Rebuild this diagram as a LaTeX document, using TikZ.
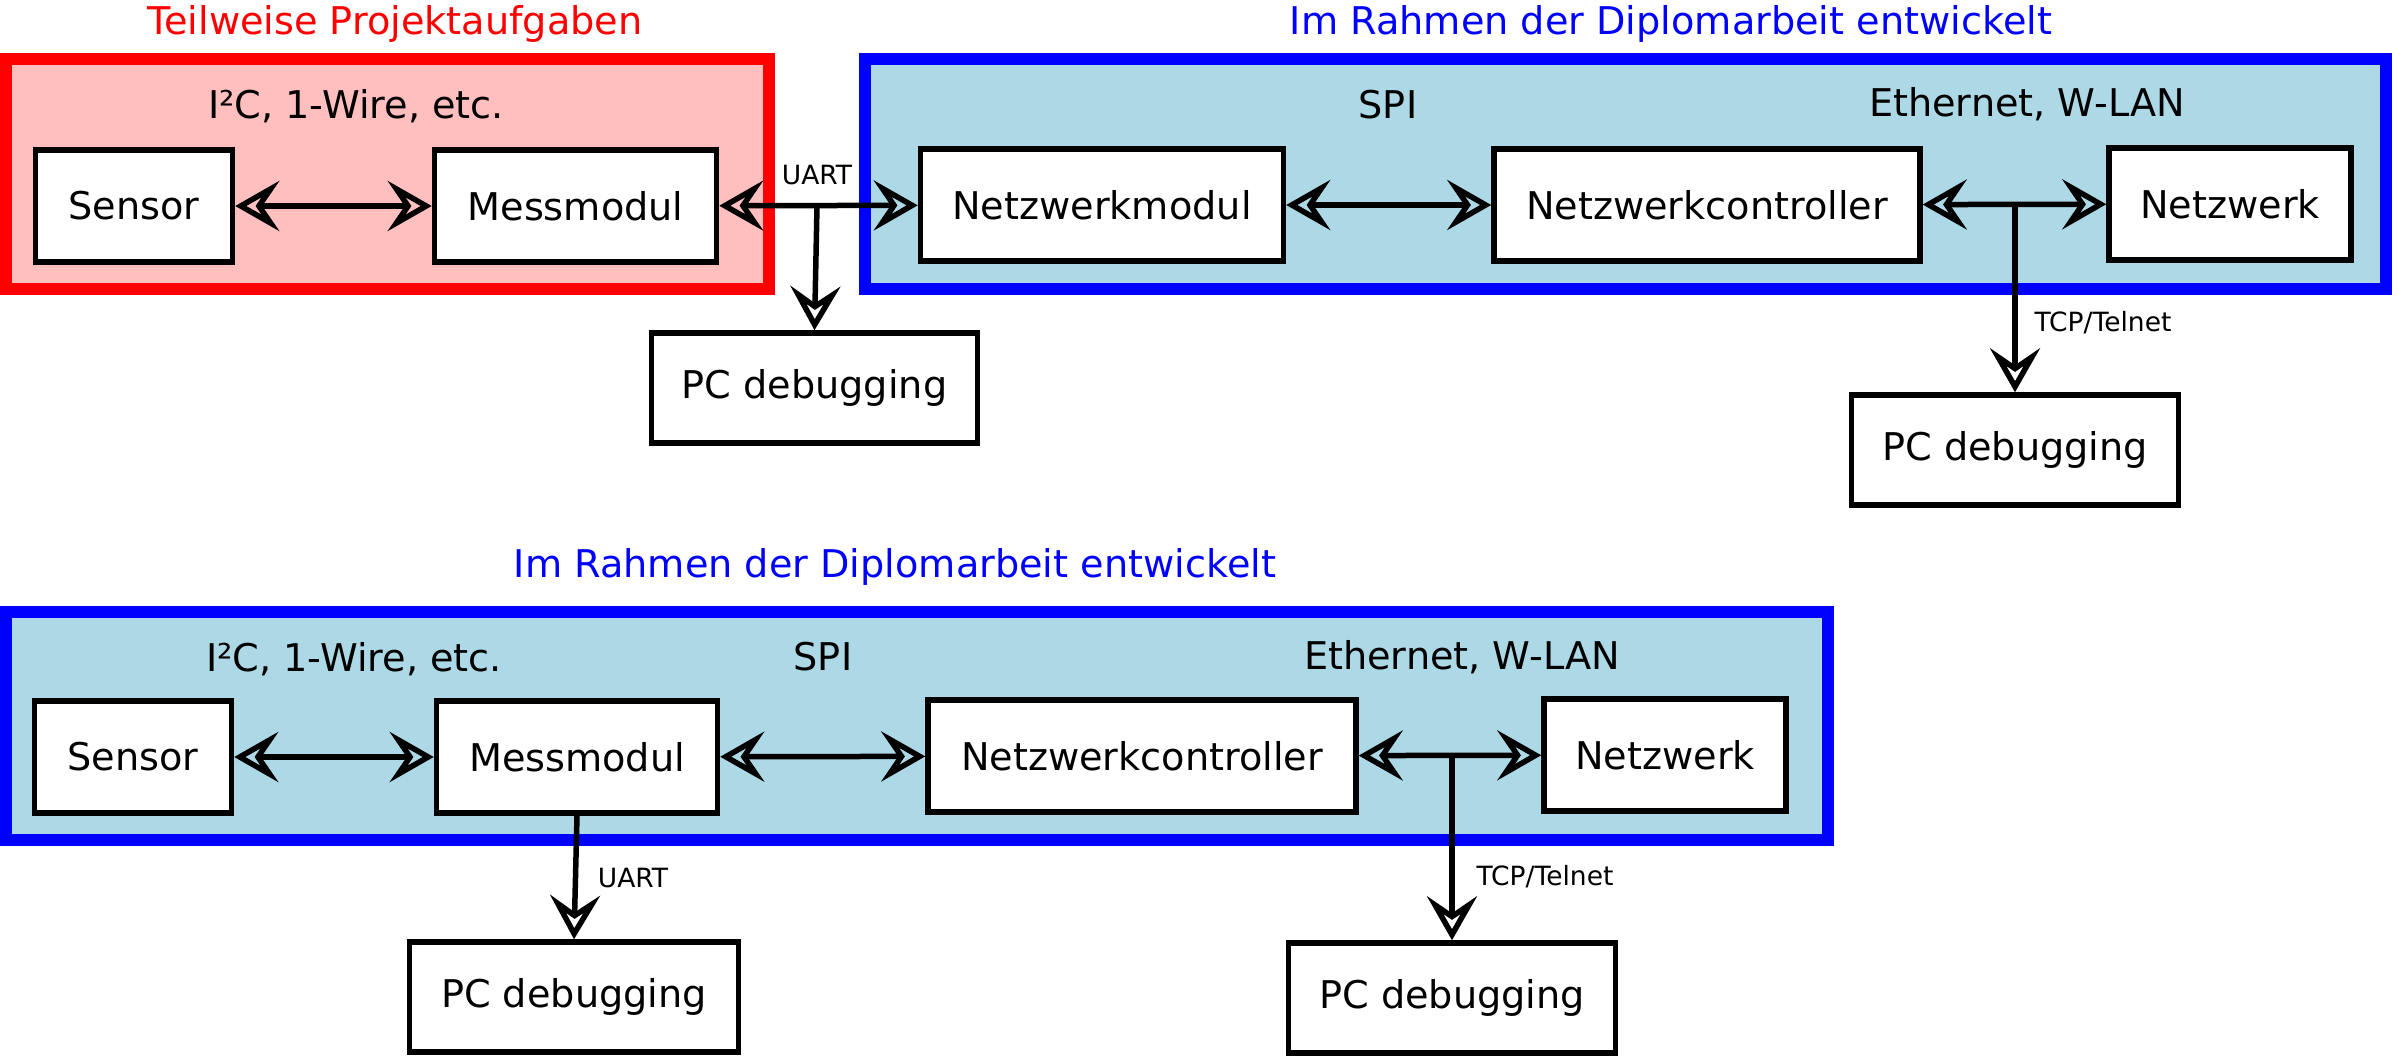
\documentclass[tikz,border=0pt]{standalone}
\usepackage{fontspec}
\setmainfont{DejaVu Sans}
\usetikzlibrary{arrows.meta}
\definecolor{pinkfill}{RGB}{255,191,191}
\definecolor{bluefill}{RGB}{173,216,230}
\definecolor{framered}{RGB}{255,0,0}
\definecolor{frameblue}{RGB}{0,0,255}
\newcommand\mainsz{\fontsize{19.1pt}{23pt}\selectfont}
\newcommand\smallsz{\fontsize{13.25pt}{16pt}\selectfont}
\begin{document}
\begin{tikzpicture}[x=0.5pt,y=-0.5pt,
  box/.style={draw=black, fill=white, line width=2.75pt, inner sep=0pt, font=\mainsz, minimum height=56pt},
  pcbox/.style={box, minimum height=55pt},
  redframe/.style={draw=framered, fill=pinkfill, line width=6pt},
  blueframe/.style={draw=frameblue, fill=bluefill, line width=6pt},
  redtitle/.style={anchor=base, text=framered, font=\mainsz, inner sep=0pt},
  bluetitle/.style={anchor=base, text=frameblue, font=\mainsz, inner sep=0pt},
  buslabel/.style={anchor=base, font=\mainsz, inner sep=0pt},
  smalllabel/.style={anchor=base, font=\smallsz, inner sep=0pt},
  conn/.style={line width=2.75pt, line join=miter},
  hd/.tip={Stealth[open, length=22pt, width=25pt, inset=8.5pt, line join=miter]},
  bi/.style={conn, {hd}-{hd}},
  uni/.style={conn, -{hd}}
]
\useasboundingbox (0,0) rectangle (2400,1059);
\fill[white] (0,0) rectangle (2400,1059);

% frames
\draw[redframe] (6,59) rectangle (769,289);
\draw[blueframe] (865,59) rectangle (2386,289);
\draw[blueframe] (6,612) rectangle (1828,840);

% titles
\node[redtitle] (t1) at (395,35) {Teilweise Projektaufgaben};
\node[bluetitle] (t2) at (1671,35) {Im Rahmen der Diplomarbeit entwickelt};
\node[bluetitle] (t3) at (895,577) {Im Rahmen der Diplomarbeit entwickelt};

% bus labels top
\node[buslabel] (l1) at (356,119) {I²C, 1-Wire, etc.};
\node[buslabel] (l2) at (1388,119) {SPI};
\node[buslabel] (l3) at (2027,117) {Ethernet, W-LAN};
% bus labels bottom
\node[buslabel] (l4) at (354,671) {I²C, 1-Wire, etc.};
\node[buslabel] (l5) at (823,670) {SPI};
\node[buslabel] (l6) at (1462,669) {Ethernet, W-LAN};

% top row boxes
\node[box, minimum width=98.5pt] (ST) at (134,206) {Sensor};
\node[box, minimum width=141pt] (MT) at (575.5,206) {Messmodul};
\node[box, minimum width=181.5pt] (NMT) at (1102,205) {Netzwerkmodul};
\node[box, minimum width=213pt] (NCT) at (1707,205) {Netzwerkcontroller};
\node[box, minimum width=121pt] (NWT) at (2230,204) {Netzwerk};
\node[pcbox, minimum width=163pt] (PCT1) at (814.5,388) {PC debugging};
\node[pcbox, minimum width=163.5pt] (PCT2) at (2015,450) {PC debugging};

% bottom row boxes
\node[box, minimum width=98.5pt] (SB) at (133,757) {Sensor};
\node[box, minimum width=140.5pt] (MB) at (577,757) {Messmodul};
\node[box, minimum width=214pt] (NCB) at (1142,756) {Netzwerkcontroller};
\node[box, minimum width=121pt] (NWB) at (1665,755) {Netzwerk};
\node[pcbox, minimum width=164.5pt] (PCB1) at (574,997) {PC debugging};
\node[pcbox, minimum width=163.5pt] (PCB2) at (1452,998) {PC debugging};

% junctions
\coordinate (j1) at (817,206);
\coordinate (j2) at (2015,204.5);
\coordinate (j3) at (1452,755.5);

% top connectors
\draw[bi] (ST) -- (MT);
\draw[bi] (MT) -- (NMT);
\draw[uni] (j1) -- (PCT1.north);
\draw[bi] (NMT) -- (NCT);
\draw[bi] (NCT) -- (NWT);
\draw[uni] (j2) -- (PCT2.north);

% bottom connectors
\draw[bi] (SB) -- (MB);
\draw[bi] (MB) -- (NCB);
\draw[bi] (NCB) -- (NWB);
\draw[uni] (MB.south) -- (PCB1.north);
\draw[uni] (j3) -- (PCB2.north);

% small labels
\node[smalllabel] (u1) at (817,185) {UART};
\node[smalllabel] (c1) at (2103,332) {TCP/Telnet};
\node[smalllabel] (u2) at (633,887) {UART};
\node[smalllabel] (c2) at (1545,885) {TCP/Telnet};
\end{tikzpicture}
\end{document}
